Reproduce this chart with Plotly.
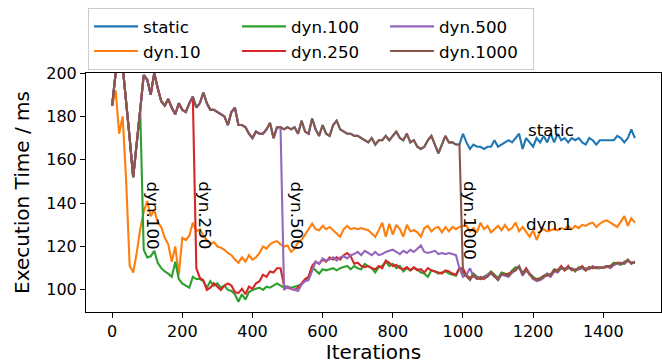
import plotly.graph_objects as go

iterations = list(range(0, 1500, 10))

static = [
    185, 201, 215, 203, 188, 170, 152, 166, 183, 199,
    197, 190, 200, 193, 187, 185, 188, 184, 181, 186,
    183, 182, 186, 189, 184, 186, 191, 186, 183, 183,
    182, 181, 180, 176, 182, 184, 176, 176, 175, 172,
    170, 173, 172, 172, 174, 177, 170, 175, 175, 174,
    175, 174, 175, 172, 178, 173, 172, 179, 174, 171,
    176, 172, 171, 176, 178, 174, 173, 172, 172, 171,
    171, 170, 169, 168, 170, 167, 169, 169, 171, 169,
    171, 173, 170, 169, 172, 168, 169, 166, 165, 166,
    169, 171, 167, 163, 167, 171, 168, 168, 167, 167,
    172, 168, 165, 167, 166, 166, 165, 166, 166, 169,
    166, 167, 168, 169, 168, 170, 172, 165, 170, 168,
    166, 170, 168, 171, 168, 172, 168, 172, 169, 170,
    168, 170, 169, 170, 168, 167, 170, 169, 167, 169,
    169, 169, 169, 169, 171, 170, 168, 170, 174, 170,
]

dyn10 = [
    185, 192, 172, 180, 150, 111, 108, 117, 128, 136,
    141, 134, 137, 131, 129, 124, 121, 113, 120, 107,
    124, 123, 125, 131, 127, 128, 125, 123, 121, 122,
    120, 119.5, 118.5, 117, 116, 114, 112.5, 115, 113, 116,
    114, 115, 117, 120, 119, 121, 122, 122.5, 121, 120,
    120.5, 117.5, 119, 122, 123, 125.5, 128, 130.5, 128, 127.5,
    129.5, 128, 129, 127.5, 126, 124.5, 128, 129.5, 128, 128.5,
    128, 128.5, 128, 127.5, 126, 124.5, 127.5, 131, 124.5, 130.5,
    125.5, 130, 128, 124.5, 130, 127, 127.5, 126.5, 124.5, 128.5,
    129.5, 127, 128.5, 129, 126.5, 129, 127, 129, 128, 129,
    129.5, 129.5, 127, 128.5, 126.5, 131, 128, 129.5, 126.5, 128,
    129.5, 127.5, 130, 127.5, 128.5, 131, 127, 129, 126.5, 124.5,
    127.5, 123, 127, 128, 127, 127.5, 128, 127.5, 128.5, 128,
    129.5, 128, 129.5, 128.5, 130, 129.5, 130.5, 131, 129, 130.5,
    131.5, 132, 131, 130, 129, 131.5, 134, 129.5, 133, 131,
]

# dyn.100: own values from iteration 90 on
dyn100_tail = [
    118.5, 115, 115.5, 118, 112.5, 110, 108.5, 107.5, 106, 113,
    105, 103, 102, 101, 106, 105, 105, 104, 101, 104,
    102, 103, 101, 102, 100, 99.5, 98, 94.5, 98, 95.5,
    99, 100, 100.5, 101, 100, 101.5, 101, 102, 103, 102,
    101, 101.5, 101, 101.5, 102, 102.5, 104.5, 106, 110.5, 109,
    107.5, 109.5, 109, 109.5, 110, 109, 110, 110.5, 111, 109.5,
    111, 110, 109.5, 112, 111, 110, 108, 110.5, 111, 113,
    111, 112, 110, 111, 108.5, 110, 109, 110, 109.5, 108,
    107.5, 106, 109, 108.5, 107.5, 108, 108.5, 107.5, 107, 106.5,
    110,
    109, 107, 105, 107.5, 106, 105.5, 106, 107, 108.5, 107,
    105.5, 108, 107.5, 107, 109, 110.5, 110, 108, 109, 107.5,
    106, 105, 105.5, 106.5, 107.5, 107, 109.5, 109, 110, 109,
    110, 110, 108.5, 110.5, 110, 109, 110.5, 110, 110.5, 110,
    110.5, 111, 111, 112.5, 112, 111.5, 113, 113.5, 112.5, 112.5,
]

# dyn.250: own values from iteration 240 on
dyn250_tail = [
    110, 105.5, 104.5, 100, 101, 103, 101.5, 100, 102, 103,
    102, 99, 98.5, 100.5, 98, 101.5, 100.5, 103, 104, 107,
    106, 108.5, 108, 110, 110, 102, 101, 100.5, 100, 101,
    103, 105, 106, 111, 113, 112, 114, 113, 115, 114,
    115, 114, 116, 117, 115.5, 112, 112.5, 111, 110.5, 111,
    110, 109.5, 111, 110, 113.5, 112.5, 111, 111.5, 110, 109.5,
    110.5, 109, 110.5, 109, 109.5, 108, 110, 109, 108.5, 108,
    107.5, 109, 108.5, 107.5, 107, 110,
    110, 106.5, 105.5, 106.5, 105, 106, 105, 106.5, 108, 106.5,
    105, 107, 107, 107.5, 108, 109.5, 110.5, 107.5, 110, 107.5,
    105, 105, 104.5, 106.5, 106.5, 107, 109, 109, 111, 109,
    111, 109, 109.5, 109.5, 111, 109, 110.5, 110, 110.5, 110,
    110.5, 110.5, 111, 111.5, 112.5, 112.5, 112, 113.5, 112.5, 112.5,
]

# dyn.500: own values from iteration 490 on
dyn500_tail = [
    100, 101.5, 100.5, 100, 99.5, 102.5, 104, 104.5, 109, 113,
    112, 114.5, 113.5, 114, 115, 113.5, 115, 115.5, 114.5, 116,
    116.5, 117.5, 116, 118, 117, 116, 117.5, 116, 116.5, 117.5,
    118, 118.5, 117.5, 116.5, 118, 117, 118.5, 117.5, 119, 120.5,
    117.5, 117, 117.5, 118, 116.5, 117, 116.5, 117, 116.5, 116,
    110,
    106, 107, 110, 106, 106, 105, 106, 107, 107.5, 106,
    105, 107, 106.5, 106, 108, 109, 111, 106.5, 109, 107.5,
    105, 104, 104.5, 105.5, 107.5, 106, 108.5, 108, 110, 110,
    110, 110, 109, 109.5, 110, 110, 109.5, 111, 110, 110,
    110.5, 111, 110, 111.5, 112, 112.5, 112, 113.5, 112.5, 113,
]

# dyn.1000: own values from iteration 1000 on
dyn1000_tail = [
    108, 106, 104.5, 107, 105.5, 105, 105.5, 106, 108, 106,
    104.5, 107.5, 107, 106.5, 108.5, 109, 111, 107, 109.5, 107,
    105.5, 104.5, 105, 106, 107, 106.5, 109, 108.5, 110.5, 109.5,
    110.5, 109.5, 109, 110, 110.5, 109.5, 110, 110.5, 110, 110.5,
    110, 111, 110.5, 112, 112.5, 112, 112.5, 114, 112, 113,
]

n = len(iterations)
dyn100 = static[: n - len(dyn100_tail)] + dyn100_tail
dyn250 = static[: n - len(dyn250_tail)] + dyn250_tail
dyn500 = static[: n - len(dyn500_tail)] + dyn500_tail
dyn1000 = static[: n - len(dyn1000_tail)] + dyn1000_tail

series_names = ["static", "dyn.10", "dyn.100", "dyn.250", "dyn.500", "dyn.1000"]
series_values = [static, dyn10, dyn100, dyn250, dyn500, dyn1000]
colors = ["#1f77b4", "#ff7f0e", "#2ca02c", "#d62728", "#9467bd", "#8c564b"]
legend_ranks = [1, 4, 2, 5, 3, 6]

# labels on the chart
label_texts = ["static", "dyn.1"]
label_x = [1250, 1247]
label_y = [173.7, 130.6]
vlabel_texts = ["dyn.100", "dyn.250", "dyn.500", "dyn.1000"]
vlabel_x = [116, 265, 526, 1018]
vlabel_y = [134.4, 134.4, 134.4, 132.1]

FONT = "DejaVu Sans"

fig = go.Figure()
for name, vals, col, rk in zip(series_names, series_values, colors, legend_ranks):
    fig.add_trace(go.Scatter(
        x=iterations, y=vals, mode="lines", name=name,
        line=dict(color=col, width=2.1), legendrank=rk,
    ))

annotations = []
for t, x, y in zip(label_texts, label_x, label_y):
    annotations.append(dict(x=x, y=y, xref="x", yref="y", text=t, showarrow=False,
                            font=dict(family=FONT, size=16.7, color="black"),
                            xanchor="center", yanchor="middle"))
for t, x, y in zip(vlabel_texts, vlabel_x, vlabel_y):
    annotations.append(dict(x=x, y=y, xref="x", yref="y", text=t, showarrow=False,
                            textangle=90,
                            font=dict(family=FONT, size=16.7, color="black"),
                            xanchor="center", yanchor="middle"))

fig.update_layout(
    width=662, height=364,
    margin=dict(l=86, r=1, t=73, b=52, autoexpand=False),
    paper_bgcolor="white", plot_bgcolor="white",
    font=dict(family=FONT, size=16, color="black"),
    showlegend=True,
    legend=dict(
        orientation="h", x=0.0035, xanchor="left", y=1.272, yanchor="top",
        font=dict(family=FONT, size=16.7, color="black"),
        bgcolor="rgba(255,255,255,0.85)", bordercolor="#cccccc", borderwidth=1,
        entrywidth=89, itemwidth=44, traceorder="normal",
    ),
    annotations=annotations,
)
fig.update_xaxes(
    range=[-74.5, 1564.5], tickvals=[0, 200, 400, 600, 800, 1000, 1200, 1400],
    ticks="outside", ticklen=5, tickwidth=1, tickcolor="black",
    showline=True, linecolor="black", linewidth=1.1, mirror=True,
    showgrid=False, zeroline=False, automargin=False,
    tickfont=dict(family=FONT, size=16),
    title=dict(text="Iterations", font=dict(family=FONT, size=20), standoff=7),
)
fig.update_yaxes(
    range=[89.8, 200], tickvals=[100, 120, 140, 160, 180, 200],
    ticks="outside", ticklen=5, tickwidth=1, tickcolor="black",
    showline=True, linecolor="black", linewidth=1.1, mirror=True,
    showgrid=False, zeroline=False, automargin=False,
    tickfont=dict(family=FONT, size=16),
    title=dict(text="Execution Time / ms", font=dict(family=FONT, size=20), standoff=11),
)

fig.write_html(
    "out.html",
    config={"displayModeBar": False},
    post_script="document.body.style.margin='0px';document.body.style.overflow='hidden';",
)
